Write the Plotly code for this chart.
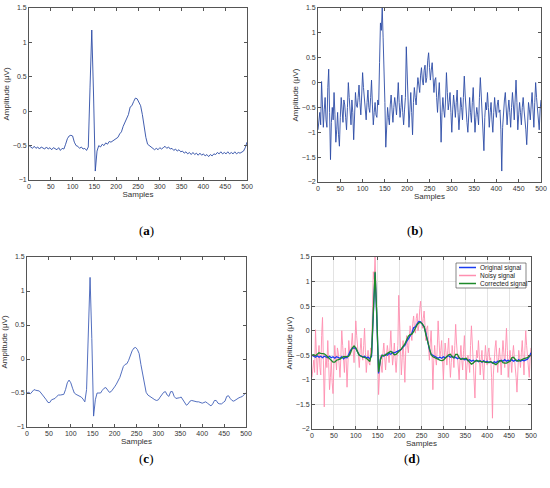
import plotly.graph_objects as go

# clean signals, read every 4th sample
samples = list(range(0, 501, 4))
# noisy signal, read every 2nd sample
samples_noisy = list(range(0, 501, 2))

original = [
    -0.50, -0.52, -0.54, -0.51, -0.54, -0.52, -0.55, -0.52, -0.53, -0.55,
    -0.52, -0.55, -0.53, -0.56, -0.53, -0.55, -0.56, -0.53, -0.57, -0.54,
    -0.55, -0.48, -0.40, -0.36, -0.35, -0.36, -0.45, -0.50, -0.51, -0.54,
    -0.52, -0.55, -0.54, -0.57, -0.52, 0.35, 1.18, 0.25, -0.87, -0.58,
    -0.50, -0.52, -0.48, -0.50, -0.46, -0.48, -0.44, -0.45, -0.43, -0.42,
    -0.40, -0.38, -0.33, -0.30, -0.22, -0.16, -0.12, -0.05, 0.06, 0.08,
    0.14, 0.19, 0.18, 0.13, 0.08, -0.05, -0.22, -0.38, -0.48, -0.50,
    -0.52, -0.55, -0.56, -0.54, -0.56, -0.53, -0.55, -0.53, -0.51, -0.54,
    -0.52, -0.55, -0.54, -0.57, -0.55, -0.58, -0.56, -0.59, -0.58, -0.61,
    -0.59, -0.62, -0.60, -0.63, -0.60, -0.63, -0.61, -0.64, -0.61, -0.64,
    -0.62, -0.65, -0.63, -0.66, -0.63, -0.65, -0.62, -0.63, -0.60, -0.62,
    -0.59, -0.62, -0.60, -0.62, -0.59, -0.62, -0.60, -0.62, -0.59, -0.62,
    -0.60, -0.61, -0.60, -0.58, -0.53, -0.45,
]

noisy = [
    -0.95, -0.70, -0.60, -0.85, 0.02, -0.45, -0.90, -0.55, -0.30, -0.75,
    -0.90, -0.10, 0.27, -0.60, -1.55, -0.80, -0.50, -0.75, -0.20, -0.65,
    -1.20, -0.95, -0.60, -1.05, -1.28, -0.70, -0.30, -0.55, -0.80, -0.35,
    -0.45, -0.70, -0.95, -0.50, 0.00, -0.30, -0.60, -0.85, -0.35, -0.60,
    -1.15, -0.55, -0.20, -0.45, -0.50, -0.30, -0.05, -0.40, -0.65, -0.25,
    0.20, -0.10, -0.30, -0.55, -0.75, -0.40, -0.15, -0.50, -0.60, -0.30,
    0.05, -0.45, -0.85, -0.60, -0.40, -0.65, -0.70, -0.35, -0.45, 0.40,
    1.20, 1.05, 1.50, 0.90, 0.35, -0.40, -1.30, -0.75, -0.50, -0.70,
    -0.85, -0.45, -0.25, -0.55, -0.80, -0.50, -0.30, -0.45, -0.65, -0.35,
    0.00, -0.40, -0.70, -0.50, -0.25, -0.60, -0.85, -0.55, -0.30, 0.72,
    0.10, -0.50, -0.90, -0.55, -0.20, -0.60, -1.05, -0.40, -0.10, -0.30,
    -0.45, -0.15, 0.10, -0.05, -0.20, 0.15, 0.30, 0.05, -0.05, 0.25,
    0.35, 0.00, 0.10, 0.45, 0.60, 0.30, 0.05, 0.25, 0.40, 0.10,
    -0.20, 0.05, 0.10, -0.30, -0.60, -0.25, 0.00, -0.45, -1.20, -0.60,
    -0.30, -0.55, -0.70, -0.35, 0.20, -0.20, -0.55, -0.40, -0.20, -0.60,
    -1.00, -0.55, -0.25, -0.45, -0.70, -0.40, -0.15, -0.60, -0.95, -0.65,
    -0.30, -0.50, -0.75, -0.30, 0.13, -0.25, -0.60, -0.80, -1.00, -0.55,
    -0.30, -0.60, -0.80, -0.40, -0.10, -0.55, -1.00, -0.70, -0.50, -0.65,
    -0.85, -0.30, 0.10, -0.25, -0.60, -0.95, -1.37, -0.70, -0.40, -0.55,
    -0.20, -0.50, -0.90, -0.60, -0.40, -0.75, -1.00, -0.60, -0.30, -0.55,
    -0.70, -0.45, -0.35, -0.60, -0.55, -0.95, -1.78, -0.90, -0.50, -0.35,
    -0.20, -0.55, -0.85, -0.55, -0.35, -0.60, -0.90, -0.50, -0.20, -0.45,
    -0.75, -0.35, 0.05, -0.40, -0.95, -0.65, -0.40, -0.60, -0.85, -0.50,
    -0.30, -0.55, -0.70, -0.95, -1.25, -0.70, -0.40, -0.55, -0.75, -0.45,
    -0.20, -0.55, -0.90, -0.40, 0.00, -0.30, -0.50, -0.80, -0.95, -0.55,
    -0.35,
]

corrected = [
    -0.50, -0.49, -0.51, -0.48, -0.45, -0.46, -0.47, -0.47, -0.50, -0.53,
    -0.56, -0.60, -0.64, -0.64, -0.60, -0.59, -0.58, -0.55, -0.53, -0.53,
    -0.53, -0.52, -0.45, -0.35, -0.31, -0.35, -0.43, -0.50, -0.52, -0.53,
    -0.54, -0.56, -0.59, -0.63, -0.45, 0.35, 1.20, 0.30, -0.84, -0.60,
    -0.50, -0.50, -0.50, -0.46, -0.43, -0.42, -0.45, -0.49, -0.48, -0.45,
    -0.41, -0.37, -0.32, -0.27, -0.19, -0.11, -0.08, -0.07, -0.02, 0.06,
    0.12, 0.16, 0.17, 0.14, 0.08, -0.08, -0.20, -0.35, -0.49, -0.53,
    -0.55, -0.56, -0.58, -0.60, -0.61, -0.60, -0.56, -0.53, -0.49, -0.48,
    -0.53, -0.55, -0.48, -0.48, -0.55, -0.58, -0.58, -0.57, -0.56, -0.60,
    -0.66, -0.68, -0.66, -0.62, -0.61, -0.62, -0.63, -0.63, -0.63, -0.64,
    -0.65, -0.64, -0.63, -0.65, -0.67, -0.69, -0.66, -0.61, -0.61, -0.65,
    -0.66, -0.66, -0.64, -0.62, -0.55, -0.54, -0.58, -0.61, -0.62, -0.60,
    -0.58, -0.57, -0.56, -0.55, -0.52, -0.50,
]

x_ticks = list(range(0, 501, 50))
y_ticks_ac = [-1, -0.5, 0, 0.5, 1, 1.5]
y_ticks_bd = [-2, -1.5, -1, -0.5, 0, 0.5, 1, 1.5]
panel_labels = ["a", "b", "c", "d"]
legend_names = ["Original signal", "Noisy signal", "Corrected signal"]

W, H = 550, 488


def px_x(px):
    return px / W


def px_y(py):
    return 1 - py / H


# pixel boxes of the four axes: left, right, top, bottom
boxes = [(29, 247, 8, 180), (318, 541, 8, 182), (27, 246, 257, 427), (312, 531, 257, 429)]

tick_font = dict(family="Liberation Sans, Arial", size=7, color="#333")
title_font = dict(family="Liberation Sans, Arial", size=8, color="#333")
line_blue = "#2c4ca6"
d_colors = ["#1a3cf0", "#ff8fb0", "#1e8a2a"]

fig = go.Figure()

fig.add_trace(go.Scatter(x=samples, y=original, mode="lines", line=dict(color=line_blue, width=0.9),
                         xaxis="x", yaxis="y"))
fig.add_trace(go.Scatter(x=samples_noisy, y=noisy, mode="lines", line=dict(color=line_blue, width=0.9),
                         xaxis="x2", yaxis="y2"))
fig.add_trace(go.Scatter(x=samples, y=corrected, mode="lines", line=dict(color="#3f5fb8", width=0.9),
                         xaxis="x3", yaxis="y3"))
fig.add_trace(go.Scatter(x=samples_noisy, y=noisy, mode="lines", line=dict(color=d_colors[1], width=0.9),
                         xaxis="x4", yaxis="y4"))
fig.add_trace(go.Scatter(x=samples, y=original, mode="lines", line=dict(color=d_colors[0], width=1.3),
                         xaxis="x4", yaxis="y4"))
fig.add_trace(go.Scatter(x=samples, y=corrected, mode="lines", line=dict(color=d_colors[2], width=1.3),
                         xaxis="x4", yaxis="y4"))

layout = {}
for i, (l, r, t, b) in enumerate(boxes):
    sfx = "" if i == 0 else str(i + 1)
    yt = y_ticks_ac if i in (0, 2) else y_ticks_bd
    grid = i == 3
    common = dict(showline=True, linecolor="#555", linewidth=0.8, mirror="ticks",
                  ticks="inside", ticklen=3, tickcolor="#555", tickfont=tick_font,
                  zeroline=False, showgrid=grid, gridcolor="#e3e3e3", gridwidth=0.6,
                  automargin=False, ticklabeloverflow="allow")
    layout["xaxis" + sfx] = dict(domain=[px_x(l), px_x(r)], anchor="y" + sfx, range=[0, 500],
                                 tickvals=x_ticks, title=dict(text="Samples", font=title_font, standoff=2),
                                 **common)
    layout["yaxis" + sfx] = dict(domain=[px_y(b), px_y(t)], anchor="x" + sfx,
                                 range=[yt[0], yt[-1]], tickvals=yt,
                                 title=dict(text="Amplitude (μV)", font=title_font, standoff=2),
                                 **common)

fig.update_layout(**layout)

label_pos = [(137, 230), (425, 230), (137, 468), (422, 468)]
for lab, (px, py) in zip(panel_labels, label_pos):
    fig.add_annotation(x=px_x(px), y=px_y(py), xref="paper", yref="paper", showarrow=False,
                       text="(<b>%s</b>)" % lab,
                       font=dict(family="Liberation Serif, Times New Roman", size=13, color="#000"))

# compact legend box in panel (d)
lg_l, lg_r, lg_t, lg_b = 456, 526, 263, 288
fig.add_shape(type="rect", xref="paper", yref="paper",
              x0=px_x(lg_l), x1=px_x(lg_r), y0=px_y(lg_b), y1=px_y(lg_t),
              fillcolor="white", line=dict(color="#555", width=0.7), layer="above")
for k, (name, col) in enumerate(zip(legend_names, d_colors)):
    ry = lg_t + 4.5 + k * 8
    fig.add_shape(type="line", xref="paper", yref="paper",
                  x0=px_x(lg_l + 3), x1=px_x(lg_l + 20), y0=px_y(ry), y1=px_y(ry),
                  line=dict(color=col, width=1.5), layer="above")
    fig.add_annotation(x=px_x(lg_l + 22), y=px_y(ry), xref="paper", yref="paper",
                       xanchor="left", yanchor="middle", showarrow=False, text=name,
                       font=dict(family="Liberation Sans, Arial", size=6.5, color="#222"))

fig.update_layout(
    width=W, height=H,
    margin=dict(l=0, r=0, t=0, b=0),
    paper_bgcolor="white", plot_bgcolor="white",
    showlegend=False,
)

# drop the default page margin so the figure fills the window exactly
fig.write_html("out.html", config={"displayModeBar": False},
               post_script="document.body.style.margin='0';")
